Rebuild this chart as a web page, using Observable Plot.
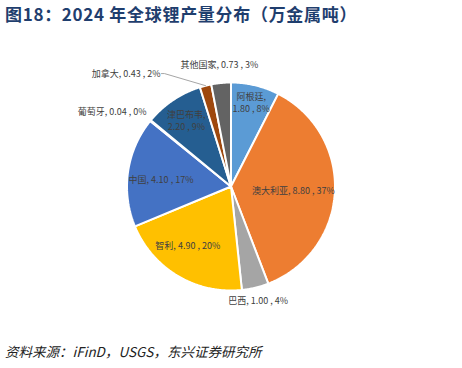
<!DOCTYPE html>
<html><head><meta charset="utf-8">
<script src="https://cdn.jsdelivr.net/npm/d3@7"></script>
<script src="https://cdn.jsdelivr.net/npm/@observablehq/plot@0.6"></script>
<style>
body{margin:0;background:#fff;width:462px;height:368px;overflow:hidden;font-family:"Noto Sans CJK SC","Noto Sans",sans-serif}
#title{height:28px;line-height:28px;padding-left:5px;font-size:17px;letter-spacing:0.7px;font-weight:bold;color:#1F3E6E;white-space:nowrap}
#caption{height:26px;line-height:26px;padding-left:5px;font-size:13.5px;font-style:italic;color:#222;white-space:nowrap}
#chart svg{display:block}
</style></head><body>
<div id="title">图18：2024 年全球锂产量分布（万金属吨）</div>
<div id="chart"></div>
<div id="caption">资料来源：iFinD，USGS，东兴证券研究所</div>
<script>
// ---- data ----
const countries = ["阿根廷","澳大利亚","巴西","智利","中国","葡萄牙","津巴布韦","加拿大","其他国家"];
const output = [1.80, 8.80, 1.00, 4.90, 4.10, 0.04, 2.20, 0.43, 0.73];
const shares = [8, 37, 4, 20, 17, 0, 9, 2, 3];

// ---- style / layout ----
const colors = ["#5B9BD5","#ED7D31","#A5A5A5","#FFC000","#4472C4","#70AD47","#255E91","#9E480E","#636363"];
const W = 462, H = 310, CX = 230.5, CY = 158, R = 104;
const labelLayout = {
  "阿根廷":   {r:0.83, twoLine:true},
  "澳大利亚": {r:0.60},
  "巴西":     {r:1.12},
  "智利":     {r:0.70, dx:-6, dy:-4},
  "中国":     {r:0.68, dy:3},
  "葡萄牙":   {r:1.05, dy:-6, anchor:"end"},
  "津巴布韦": {r:0.77, twoLine:true},
  "加拿大":   {r:1.12, dx:-42, anchor:"end", leader:true},
  "其他国家": {r:1.18}
};

const arcs = d3.pie().sort(null).value(d => d)(output);

// slice polygons (unit coordinates, y up)
const polys = [];
arcs.forEach((a, i) => {
  const name = countries[i];
  polys.push({name, x: 0, y: 0});
  const n = Math.max(2, Math.ceil((a.endAngle - a.startAngle) / 0.01));
  for (let k = 0; k <= n; k++) {
    const t = a.startAngle + (a.endAngle - a.startAngle) * k / n;
    polys.push({name, x: Math.sin(t), y: Math.cos(t)});
  }
  polys.push({name, x: 0, y: 0});
});

// labels
const labels = [];
const leaders = [];
arcs.forEach((a, i) => {
  const name = countries[i];
  const L = labelLayout[name];
  const mid = (a.startAngle + a.endAngle) / 2;
  const x = L.r * Math.sin(mid) + (L.dx || 0) / R;
  const y = L.r * Math.cos(mid) - (L.dy || 0) / R;
  const val = output[i].toFixed(2);
  const text = L.twoLine ? `${name},\n${val} , ${shares[i]}%` : `${name}, ${val} , ${shares[i]}%`;
  labels.push({name, x, y, text, anchor: L.anchor || "middle"});
  if (L.leader) {
    leaders.push({x: Math.sin(mid), y: Math.cos(mid)});
    leaders.push({x: x + 4 / R, y});
    leaders.push({x: x + 1 / R, y});
  }
});

const font = {fontSize: 9, fill: "#404040", fontFamily: "'Noto Sans CJK SC', sans-serif", lineHeight: 1.3};

const chart = Plot.plot({
  width: W, height: H,
  margin: 0,
  x: {domain: [-CX / R, (W - CX) / R], range: [0, W], axis: null},
  y: {domain: [CY / R, (CY - H) / R], range: [0, H], axis: null},
  color: {domain: countries, range: colors},
  marks: [
    Plot.line(polys, {x: "x", y: "y", z: "name", fill: "name", stroke: "white", strokeWidth: 2, strokeLinejoin: "miter", curve: "linear"}),
    Plot.line(leaders, {x: "x", y: "y", stroke: "#A6A6A6", strokeWidth: 1}),
    Plot.text(labels.filter(d => d.anchor === "middle"), {x: "x", y: "y", text: "text", textAnchor: "middle", ...font}),
    Plot.text(labels.filter(d => d.anchor === "end"), {x: "x", y: "y", text: "text", textAnchor: "end", ...font})
  ]
});
document.getElementById("chart").appendChild(chart);
</script>
</body></html>
